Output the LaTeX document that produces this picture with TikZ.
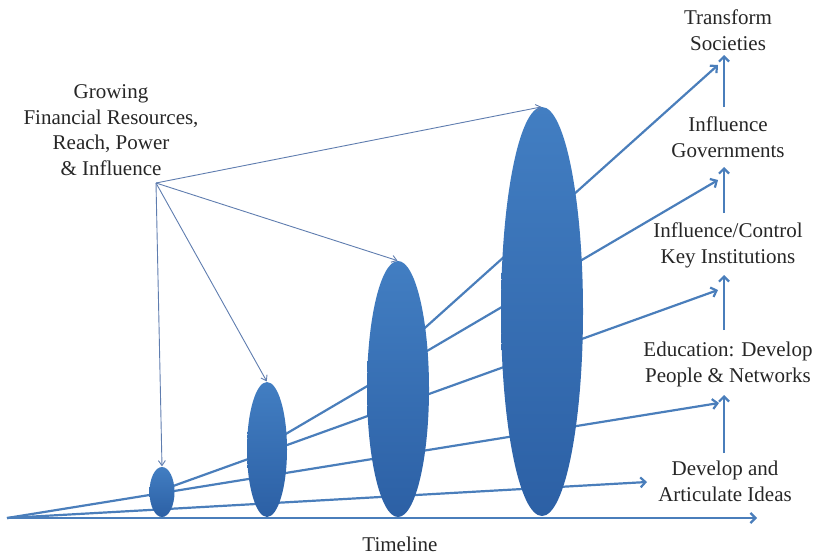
\documentclass[tikz,border=0pt]{standalone}
\usepackage{fontspec}
\setmainfont{Liberation Serif}
\usetikzlibrary{arrows.meta,shapes.geometric}
\definecolor{lineblue}{RGB}{74,126,187}
\definecolor{feedblue}{RGB}{95,125,175}
\definecolor{elltop}{RGB}{66,126,194}
\definecolor{ellbot}{RGB}{44,96,165}
\begin{document}
\begin{tikzpicture}[x=1pt,y=-1pt,
  ray/.style={draw=lineblue, line width=2.2pt, -{Straight Barb[length=5pt,width=10pt]}},
  feed/.style={draw=feedblue, line width=0.9pt, -{Straight Barb[length=5pt,width=7pt]}, shorten >=0.5pt},
  blob/.style={ellipse, inner sep=0pt, draw=none, top color=elltop, bottom color=ellbot},
  lbl/.style={align=center, font=\fontsize{21}{25.5}\selectfont, inner sep=0pt, text=black!85, anchor=base}]
\useasboundingbox (0,0) rectangle (813,557);

% coordinates
\coordinate (O) at (7,518);
\coordinate (tEnd) at (757,518);
\coordinate (s1) at (162,490);
\coordinate (s2) at (267,445);
\coordinate (s3) at (398,352);
\coordinate (tArt) at (647,482);
\coordinate (tEdu) at (719,403);
\coordinate (tKey) at (718,290);
\coordinate (tGov) at (718,180);
\coordinate (tSoc) at (718,65);
\coordinate (v1a) at (724,453); \coordinate (v1b) at (724,395);
\coordinate (v2a) at (724,330); \coordinate (v2b) at (724,275);
\coordinate (v3a) at (724,213); \coordinate (v3b) at (724,167);
\coordinate (v4a) at (724,107); \coordinate (v4b) at (724,55);
\coordinate (src) at (156,183);

% labels (base anchor = baseline of the last line)
\node[lbl] (soc) at (728,50) {Transform\\Societies};
\node[lbl] (gov) at (728,157) {Influence\\Governments};
\node[lbl] (key) at (728,263) {Influence/Control\\Key Institutions};
\node[lbl] (edu) at (728,382) {Education: Develop\\People \& Networks};
\node[lbl] (art) at (725,501) {Develop and\\Articulate Ideas};
\node[lbl] (grow) at (111,175) {Growing\\Financial Resources,\\Reach, Power\\\& Influence};
\node[lbl] (tl) at (400,551) {Timeline};

% rays
\draw[ray] (O) -- (tArt);
\draw[ray] (O) -- (tEdu);
\draw[ray] (s1) -- (tKey);
\draw[ray] (s2) -- (tGov);
\draw[ray] (s3) -- (tSoc);
\draw[ray] (O) -- (tEnd);

% vertical progression arrows
\draw[ray] (v1a) -- (v1b);
\draw[ray] (v2a) -- (v2b);
\draw[ray] (v3a) -- (v3b);
\draw[ray] (v4a) -- (v4b);

% ellipses
\node[blob, minimum width=25pt, minimum height=50pt] (e1) at (162,492) {};
\node[blob, minimum width=40pt, minimum height=135pt] (e2) at (267,449.5) {};
\node[blob, minimum width=62pt, minimum height=256pt] (e3) at (398,389) {};
\node[blob, minimum width=82pt, minimum height=409pt] (e4) at (542,311.5) {};

% feeding arrows
\draw[feed] (src) -- (e1.north);
\draw[feed] (src) -- (e2.north);
\draw[feed] (src) -- (e3.north);
\draw[feed] (src) -- (e4.north);
\end{tikzpicture}
\end{document}
